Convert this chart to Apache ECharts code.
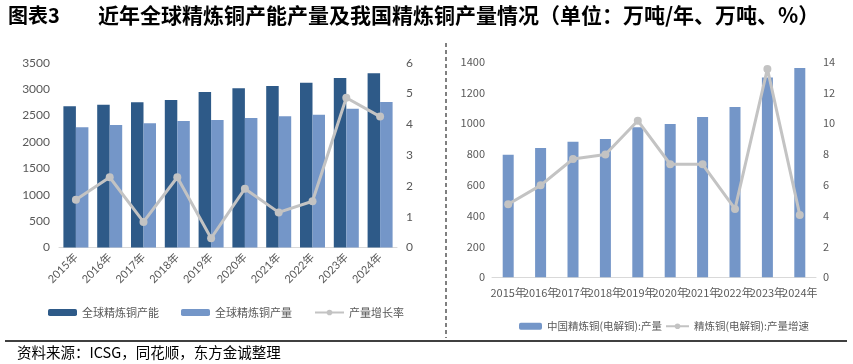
<!DOCTYPE html>
<html>
<head>
<meta charset="utf-8">
<script src="https://cdn.jsdelivr.net/npm/echarts@6/dist/echarts.min.js"></script>
<style>html,body{margin:0;padding:0;background:#fff}#c{width:853px;height:364px}</style>
</head>
<body>
<div id="c"></div>
<script>
const years = ['2015年','2016年','2017年','2018年','2019年','2020年','2021年','2022年','2023年','2024年'];
const globalCapacity = [2675, 2705, 2750, 2794, 2945, 3015, 3059, 3121, 3210, 3299];
const globalOutput = [2276, 2320, 2352, 2396, 2415, 2453, 2485, 2515, 2629, 2756];
const globalGrowth = [1.55, 2.28, 0.83, 2.28, 0.30, 1.91, 1.14, 1.50, 4.86, 4.25];
const chinaOutput = [795, 840, 881, 898, 974, 995, 1041, 1106, 1298, 1359];
const chinaGrowth = [4.74, 5.97, 7.68, 7.97, 10.17, 7.34, 7.34, 4.44, 13.53, 4.05];

const dark = '#2E5A88';
const light = '#7496C8';
const gray = '#C3C3C3';
const txt = '#595959';
const gothic = 'Lato, "Noto Sans CJK SC", sans-serif';
const narrow = '"Liberation Sans Narrow", "Noto Sans CJK SC", sans-serif';
const plain = v => String(v);

const chart = echarts.init(document.getElementById('c'));
chart.setOption({
  animation: false,
  backgroundColor: '#fff',
  graphic: [
    {type:'text', left: 8, top: 5, style:{text:'图表3', font:'bold 20px "Noto Sans CJK SC"', fill:'#000'}},
    {type:'text', left: 98, top: 5, style:{text:'近年全球精炼铜产能产量及我国精炼铜产量情况（单位：万吨/年、万吨、%）', font:'bold 21px "Noto Sans CJK SC"', fill:'#000'}},
    {type:'line', shape:{x1:446, y1:43, x2:446, y2:338}, style:{stroke:'#000', lineWidth:1, lineDash:[4,3]}},
    {type:'line', shape:{x1:5, y1:341, x2:847, y2:341}, style:{stroke:'#000', lineWidth:1.5}},
    {type:'text', left: 17, top: 345, style:{text:'资料来源：ICSG，同花顺，东方金诚整理', font:'14.5px "Noto Sans CJK SC"', fill:'#000'}}
  ],
  legend: [
    {left: 43, top: 302, itemWidth: 29, itemHeight: 7, itemGap: 22,
     data: ['全球精炼铜产能','全球精炼铜产量','产量增长率'],
     textStyle:{fontSize:11, color:txt, fontFamily:'"Noto Sans CJK SC"'}},
    {left: 514, top: 316, itemWidth: 23, itemHeight: 7, itemGap: 3,
     data: ['中国精炼铜(电解铜):产量','精炼铜(电解铜):产量增速'],
     textStyle:{fontSize:10.5, color:txt, fontFamily:'"Noto Sans CJK SC"'}}
  ],
  grid: [
    {left: 59, right: 456, top: 62.7, bottom: 116.5},
    {left: 492, right: 37, top: 61.7, bottom: 86.7}
  ],
  xAxis: [
    {type:'category', gridIndex:0, data: years,
     axisLine:{lineStyle:{color:'#D9D9D9'}}, axisTick:{show:false},
     axisLabel:{rotate:45, interval:0, margin:8, fontSize:11, color:txt, fontFamily:gothic}},
    {type:'category', gridIndex:1, data: years,
     axisLine:{lineStyle:{color:'#D9D9D9'}}, axisTick:{show:false},
     axisLabel:{interval:0, margin:10, fontSize:11, color:txt, fontFamily:narrow}}
  ],
  yAxis: [
    {type:'value', gridIndex:0, min:0, max:3500, interval:500, splitLine:{show:false},
     axisLine:{show:false}, axisTick:{show:false},
     axisLabel:{margin:9, fontSize:12, color:txt, fontFamily:gothic, formatter: plain}},
    {type:'value', gridIndex:0, min:0, max:6, interval:1, splitLine:{show:false},
     axisLine:{show:false}, axisTick:{show:false}, position:'right',
     axisLabel:{margin:9, fontSize:12, color:txt, fontFamily:gothic, formatter: plain}},
    {type:'value', gridIndex:1, min:0, max:1400, interval:200, splitLine:{show:false},
     axisLine:{show:false}, axisTick:{show:false},
     axisLabel:{margin:7, fontSize:11, color:txt, fontFamily:narrow, formatter: plain}},
    {type:'value', gridIndex:1, min:0, max:14, interval:2, splitLine:{show:false},
     axisLine:{show:false}, axisTick:{show:false}, position:'right',
     axisLabel:{margin:7, fontSize:11, color:txt, fontFamily:narrow, formatter: plain}}
  ],
  series: [
    {name:'全球精炼铜产能', type:'bar', xAxisIndex:0, yAxisIndex:0, data: globalCapacity,
     barWidth: 12.5, barGap: '0%', itemStyle:{color: dark}},
    {name:'全球精炼铜产量', type:'bar', xAxisIndex:0, yAxisIndex:0, data: globalOutput,
     barWidth: 12.5, barGap: '0%', itemStyle:{color: light}},
    {name:'产量增长率', type:'line', xAxisIndex:0, yAxisIndex:1, data: globalGrowth,
     symbol:'circle', symbolSize:8, lineStyle:{color: gray, width:3}, itemStyle:{color: gray}},
    {name:'中国精炼铜(电解铜):产量', type:'bar', xAxisIndex:1, yAxisIndex:2, data: chinaOutput,
     barWidth: 11, itemStyle:{color: light}},
    {name:'精炼铜(电解铜):产量增速', type:'line', xAxisIndex:1, yAxisIndex:3, data: chinaGrowth,
     symbol:'circle', symbolSize:8, lineStyle:{color: gray, width:3}, itemStyle:{color: gray}}
  ]
});
</script>
</body>
</html>
